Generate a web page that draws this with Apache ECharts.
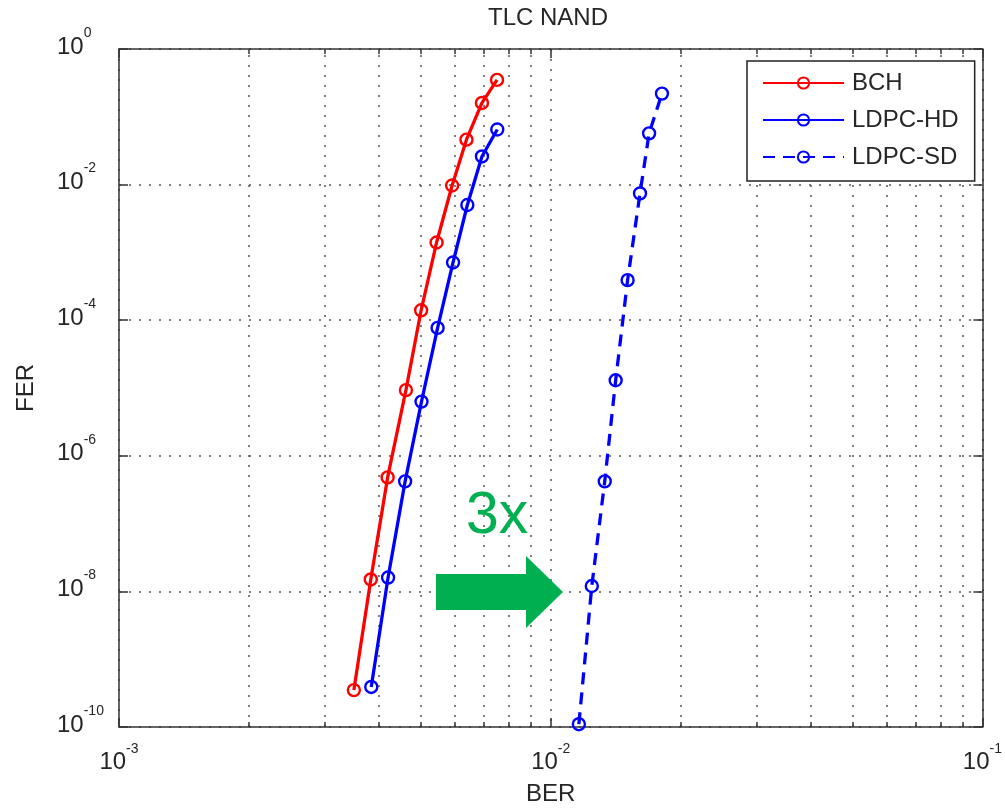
<!DOCTYPE html>
<html>
<head>
<meta charset="utf-8">
<script src="https://cdn.jsdelivr.net/npm/echarts@6/dist/echarts.min.js"></script>
<style>
html,body{margin:0;padding:0;background:#fff;}
#chart{width:1005px;height:811px;}
</style>
</head>
<body>
<div id="chart"></div>
<script>
// ---- data ----
const seriesNames = ['BCH', 'LDPC-HD', 'LDPC-SD'];
const bchBer = [0.00350, 0.00383, 0.00419, 0.00462, 0.00501, 0.00544, 0.00591, 0.00638, 0.00693, 0.00751];
const bchFer = [3.5e-10, 1.5e-8, 4.8e-7, 9.3e-6, 1.4e-4, 1.4e-3, 9.7e-3, 0.046, 0.16, 0.35];
const hdBer = [0.00384, 0.00420, 0.00460, 0.00502, 0.00547, 0.00594, 0.00641, 0.00693, 0.00752];
const hdFer = [3.9e-10, 1.6e-8, 4.2e-7, 6.3e-6, 7.7e-5, 7.1e-4, 5.0e-3, 0.026, 0.065];
const sdBer = [0.01162, 0.01245, 0.01334, 0.01414, 0.01507, 0.0161, 0.0169, 0.0181];
const sdFer = [1.1e-10, 1.2e-8, 4.2e-7, 1.3e-5, 3.9e-4, 7.4e-3, 0.057, 0.22];
const xMin = 1e-3, xMax = 1e-1;
const yMin = 1e-10, yMax = 1;
const minorMultipliers = [2, 3, 4, 5, 6, 7, 8, 9];
const titleText = 'TLC NAND';
const xName = 'BER';
const yName = 'FER';
const annotationText = '3x';

const FONT = "'Liberation Sans', Arial, sans-serif";
const TXT = '#262626';

function zip(a, b) { return a.map((v, i) => [v, b[i]]); }
function exp10(v) { return Math.round(Math.log10(v)); }

// minor x values (2..9 per decade)
const minorX = [];
for (let d = exp10(xMin); d < exp10(xMax); d++) {
  minorMultipliers.forEach(m => minorX.push(m * Math.pow(10, d)));
}
const tickFactor = Math.pow(10, 5 / 68.1);
const gridStyle = { color: '#555', width: 1.5, type: [2, 8] };
const tickStyle = { color: '#333', width: 1.5, type: 'solid' };
const minorMarks = [];
minorX.forEach(v => {
  minorMarks.push([{ coord: [v, yMin] }, { coord: [v, yMax], lineStyle: gridStyle }]);
});
minorX.forEach(v => {
  minorMarks.push([{ coord: [v, yMin] }, { coord: [v, yMin * tickFactor], lineStyle: tickStyle }]);
  minorMarks.push([{ coord: [v, yMax] }, { coord: [v, yMax / tickFactor], lineStyle: tickStyle }]);
});

// superscript labels: every token has the same total height, so placement comes from padding only
const xRich = {
  b: { fontFamily: FONT, fontSize: 24, lineHeight: 24, color: TXT, padding: [8, 0, 0, 0] },
  s: { fontFamily: FONT, fontSize: 14, lineHeight: 14, color: TXT, padding: [0, 0, 18, 0] }
};
const yRich = {
  b: { fontFamily: FONT, fontSize: 24, lineHeight: 24, color: TXT, padding: [9, 0, 13, 0] },
  s: { fontFamily: FONT, fontSize: 14, lineHeight: 14, color: TXT, padding: [0, 0, 32, 0] }
};
function powLabel(v) {
  const e = exp10(v);
  return '{b|10}{s|' + (e < 0 ? '-' + (-e) : e) + '}';
}

const axisLineStyle = { lineStyle: { color: '#333', width: 1.5 } };

function mkSeries(name, data, color, dashed) {
  return {
    name: name,
    type: 'line',
    data: data,
    symbol: 'circle',
    symbolSize: 12,
    showSymbol: true,
    lineStyle: { color: color, width: 3.3, type: dashed ? [12, 8] : 'solid' },
    itemStyle: { color: 'rgba(255,255,255,0)', borderColor: color, borderWidth: 2.4 },
    emphasis: { disabled: true },
    z: 3
  };
}

const chart = echarts.init(document.getElementById('chart'), null, { renderer: 'canvas' });

const bch = mkSeries(seriesNames[0], zip(bchBer, bchFer), '#ff0000', false);
bch.markLine = {
  silent: true,
  symbol: 'none',
  label: { show: false },
  z: 1,
  animation: false,
  data: minorMarks
};

chart.setOption({
  animation: false,
  backgroundColor: '#ffffff',
  title: {
    text: titleText,
    left: 543,
    top: 1,
    textAlign: 'center',
    textStyle: { fontFamily: FONT, fontSize: 24, fontWeight: 'normal', color: TXT }
  },
  grid: { left: 119, top: 49, right: 17.5, bottom: 81, containLabel: false },
  legend: {
    data: seriesNames,
    orient: 'vertical',
    left: 747,
    top: 61,
    padding: [10, 16, 12, 15],
    itemGap: 13,
    itemWidth: 81,
    itemHeight: 14,
    backgroundColor: '#ffffff',
    borderColor: '#222',
    borderWidth: 1.5,
    borderRadius: 0,
    textStyle: { fontFamily: FONT, fontSize: 24, lineHeight: 24, color: TXT, padding: [0, 0, 0, 3] }
  },
  xAxis: [{
    type: 'log', logBase: 10, min: xMin, max: xMax,
    name: xName, nameLocation: 'middle', nameGap: 55,
    nameTextStyle: { fontFamily: FONT, fontSize: 24, color: TXT },
    axisLine: axisLineStyle,
    axisTick: { show: true, inside: true, length: 9, lineStyle: { color: '#333', width: 1.5 } },
    axisLabel: { margin: 19, formatter: powLabel, rich: xRich, showMinLabel: true, showMaxLabel: true },
    splitLine: { show: true, lineStyle: gridStyle },
    minorTick: { show: false }
  }, {
    type: 'log', logBase: 10, min: xMin, max: xMax, position: 'top',
    axisLine: axisLineStyle,
    axisTick: { show: true, inside: true, length: 9, lineStyle: { color: '#333', width: 1.5 } },
    axisLabel: { show: false },
    splitLine: { show: false }
  }],
  yAxis: [{
    type: 'log', logBase: 10, min: yMin, max: yMax, interval: 2,
    name: yName, nameLocation: 'middle', nameGap: 81, nameRotate: 90,
    nameTextStyle: { fontFamily: FONT, fontSize: 24, color: TXT },
    axisLine: axisLineStyle,
    axisTick: { show: true, inside: true, length: 9, lineStyle: { color: '#333', width: 1.5 } },
    axisLabel: { margin: 62, align: 'left', formatter: powLabel, rich: yRich, showMinLabel: true, showMaxLabel: true },
    splitLine: { show: true, lineStyle: gridStyle }
  }, {
    type: 'log', logBase: 10, min: yMin, max: yMax, interval: 2, position: 'right',
    axisLine: axisLineStyle,
    axisTick: { show: true, inside: true, length: 9, lineStyle: { color: '#333', width: 1.5 } },
    axisLabel: { show: false },
    splitLine: { show: false }
  }],
  graphic: [
    {
      type: 'polygon',
      shape: { points: [[436, 574], [526, 574], [526, 556], [563, 592], [526, 628], [526, 610], [436, 610]] },
      style: { fill: '#00b050' },
      z: 10
    },
    {
      type: 'text',
      left: 466, top: 487,
      style: { text: annotationText, fontFamily: FONT, fontSize: 59, fill: '#00b050' },
      z: 10
    }
  ],
  series: [
    bch,
    mkSeries(seriesNames[1], zip(hdBer, hdFer), '#0000ff', false),
    mkSeries(seriesNames[2], zip(sdBer, sdFer), '#0000ff', true)
  ]
});
</script>
</body>
</html>
